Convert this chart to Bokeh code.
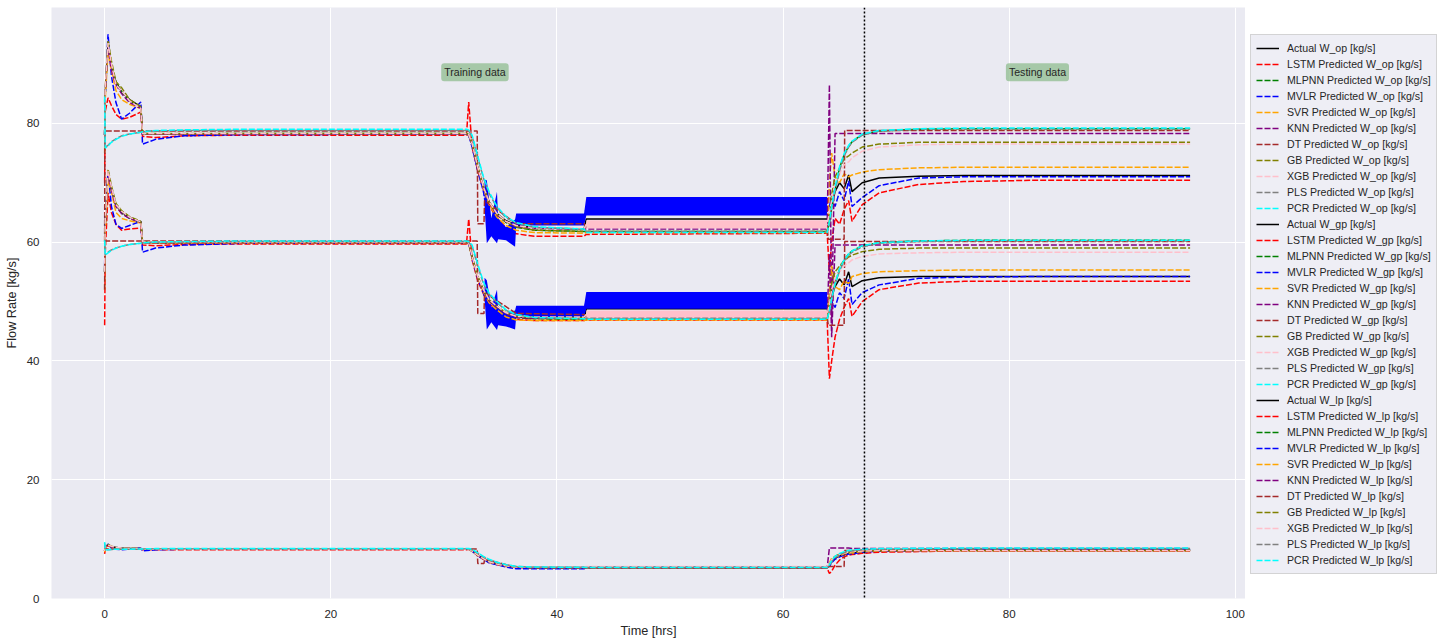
from bokeh.plotting import figure
from bokeh.layouts import row
from bokeh.models import Legend, LegendItem, Span, Label, FixedTicker
from bokeh.embed import file_html
from bokeh.resources import INLINE

# ---------------- data ----------------
x_ticks = [0, 20, 40, 60, 80, 100]
y_ticks = [0, 20, 40, 60, 80]

t = [0, 0.05, 0.3, 0.6, 1.0, 1.5, 2.2, 3.2, 3.35, 4.5, 7, 12,
     32, 32.2, 32.5, 33, 33.5, 34, 34.7, 35.5, 36.4, 38, 42.4, 42.6,
     63.9, 64.1, 64.3, 64.6, 65.0, 65.4, 65.8, 66.1, 67.0, 68.5, 72, 76, 82, 96]
t_dt = [0, 0.02, 32.95, 33.0, 33.55, 33.6, 36.4, 42.4, 42.6, 63.9, 64.0, 65.4, 65.45, 96]

# ---- W_op ----
act_op = [78.0, 85.0, 93.5, 89.5, 87.0, 85.3, 84.0, 82.8, 78.3, 78.2, 78.2, 78.2,
          78.2, 78.0, 76.5, 72.5, 69.3, 66.8, 64.8, 63.6, 62.9, 62.4, 62.2, 63.9,
          63.9, 64.8, 66.5, 68.5, 70.0, 69.0, 71.3, 68.5, 70.0, 70.8, 71.1, 71.2, 71.2, 71.2]
lstm_op = [70.0, 82.0, 84.3, 83.0, 81.5, 80.7, 81.0, 81.9, 77.8, 77.6, 77.9, 78.0,
           78.0, 83.6, 76.0, 72.0, 68.8, 66.2, 64.0, 62.4, 61.4, 61.0, 61.0, 61.3,
           61.5, 55.0, 60.0, 64.0, 63.0, 65.5, 67.0, 63.5, 66.3, 68.3, 69.7, 70.2, 70.4, 70.4]
mlpnn_op = [78.0, 85.0, 93.0, 89.5, 86.8, 85.3, 83.8, 82.6, 78.2, 78.2, 78.2, 78.3,
            78.3, 78.1, 76.5, 72.5, 69.2, 66.7, 64.6, 63.3, 62.5, 62.0, 61.8, 61.8,
            61.8, 63.2, 65.8, 69.0, 72.5, 74.7, 76.1, 76.9, 78.1, 78.7, 79.0, 79.1, 79.1, 79.1]
mvlr_op = [78.0, 85.0, 95.0, 88.0, 83.5, 80.7, 81.7, 83.6, 76.5, 77.3, 77.9, 78.1,
           78.2, 78.0, 76.0, 72.0, 68.5, 62.5, 64.0, 61.5, 63.8, 63.8, 63.8, 66.0,
           66.0, 66.0, 67.5, 66.0, 68.5, 67.0, 70.3, 66.0, 67.5, 69.5, 70.8, 71.0, 71.0, 71.0]
svr_op = [75.0, 84.0, 92.0, 89.0, 85.5, 84.0, 83.2, 82.5, 78.2, 78.2, 78.2, 78.2,
          78.2, 78.0, 76.5, 72.5, 69.0, 66.3, 64.2, 62.8, 62.0, 61.6, 61.5, 61.6,
          61.6, 70.0, 75.0, 71.0, 70.0, 71.5, 71.0, 71.3, 71.8, 72.2, 72.5, 72.6, 72.6, 72.6]
knn_op = [78.0, 85.0, 93.0, 89.0, 86.5, 85.0, 83.5, 82.5, 78.2, 78.2, 78.2, 78.2,
          78.2, 78.0, 76.5, 72.5, 69.2, 66.7, 64.6, 63.4, 62.6, 62.3, 62.2, 62.2,
          62.2, 86.5, 47.0, 78.3, 78.3, 78.3, 78.3, 78.3, 78.3, 78.3, 78.3, 78.3, 78.3, 78.3]
dt_op = [60.0, 78.7, 78.7, 63.1, 63.1, 67.0, 63.1, 63.1, 62.5, 62.5, 60.5, 60.5, 78.8, 78.8]
gb_op = [78.0, 86.0, 94.0, 90.5, 87.0, 86.0, 84.0, 82.8, 78.3, 78.3, 78.3, 78.3,
         78.3, 78.1, 76.6, 72.7, 69.4, 66.8, 64.7, 63.4, 62.6, 62.0, 61.8, 61.8,
         61.8, 64.0, 68.0, 71.0, 72.5, 74.0, 74.5, 75.0, 76.0, 76.5, 76.8, 76.8, 76.8, 76.8]
xgb_op = [78.0, 86.0, 93.5, 90.0, 86.5, 85.5, 83.8, 82.5, 78.3, 78.3, 78.3, 78.3,
          78.3, 78.1, 76.6, 72.6, 69.3, 66.8, 64.8, 63.5, 62.8, 62.4, 62.3, 63.0,
          63.0, 65.0, 67.0, 70.0, 71.5, 73.0, 73.5, 74.2, 75.3, 76.0, 76.4, 76.5, 76.5, 76.5]
pls_op = [84.0, 76.0, 76.3, 76.9, 77.4, 77.9, 78.2, 78.5, 78.6, 78.7, 78.8, 78.8,
          78.8, 78.7, 77.8, 74.2, 70.8, 68.2, 65.8, 64.1, 63.2, 62.5, 62.1, 61.8,
          61.8, 63.0, 65.5, 68.5, 72.0, 74.5, 76.0, 76.8, 78.0, 78.7, 79.0, 79.1, 79.1, 79.1]
pcr_op = [84.5, 75.8, 76.2, 76.8, 77.3, 77.8, 78.2, 78.5, 78.6, 78.8, 78.9, 79.0,
          79.0, 78.9, 78.0, 74.5, 71.0, 68.5, 66.0, 64.3, 63.3, 62.6, 62.2, 61.6,
          61.6, 63.5, 66.0, 69.3, 72.7, 74.9, 76.3, 77.0, 78.2, 78.8, 79.1, 79.2, 79.2, 79.2]

# ---- W_gp ----
act_gp = [55.0, 63.0, 72.0, 69.0, 66.3, 65.0, 64.2, 63.4, 60.0, 59.9, 59.9, 59.9,
          59.9, 59.8, 57.5, 54.1, 51.9, 50.2, 49.1, 48.0, 47.4, 47.2, 47.1, 48.8,
          48.8, 49.5, 51.0, 52.5, 53.8, 52.8, 55.0, 52.5, 53.5, 54.0, 54.2, 54.2, 54.2, 54.2]
lstm_gp = [46.0, 58.0, 68.3, 65.0, 63.0, 62.0, 62.2, 62.4, 59.5, 59.4, 59.6, 59.7,
           59.7, 63.9, 57.0, 53.5, 51.3, 49.7, 48.5, 47.5, 47.0, 46.8, 46.8, 46.9,
           46.9, 37.0, 40.0, 44.0, 47.0, 49.0, 50.5, 47.5, 50.0, 52.0, 53.1, 53.4, 53.4, 53.4]
mlpnn_gp = [55.0, 62.5, 71.5, 68.8, 66.2, 64.9, 64.0, 63.3, 59.9, 59.9, 59.9, 59.9,
            59.9, 59.8, 57.5, 54.1, 51.8, 50.1, 49.0, 47.9, 47.3, 47.1, 47.0, 47.0,
            47.0, 48.5, 50.5, 53.0, 55.5, 57.0, 58.0, 58.5, 59.4, 59.9, 60.2, 60.3, 60.3, 60.3]
mvlr_gp = [56.0, 63.0, 72.0, 66.0, 63.0, 62.3, 62.8, 63.5, 58.3, 59.0, 59.5, 59.8,
           59.9, 59.8, 57.3, 53.8, 51.5, 47.5, 48.5, 47.0, 48.3, 48.3, 48.3, 50.2,
           50.2, 49.0, 50.0, 49.0, 51.5, 50.5, 53.8, 49.5, 51.5, 52.8, 53.9, 54.1, 54.2, 54.2]
svr_gp = [52.0, 62.0, 70.5, 68.5, 65.0, 64.0, 63.6, 63.2, 59.9, 59.8, 59.8, 59.8,
          59.8, 59.7, 57.3, 53.9, 51.6, 49.8, 48.6, 47.4, 46.9, 46.8, 46.8, 46.9,
          46.9, 52.0, 56.0, 52.5, 52.0, 53.5, 53.0, 54.2, 54.7, 55.0, 55.2, 55.3, 55.3, 55.3]
knn_gp = [55.0, 63.0, 71.5, 68.8, 66.0, 64.8, 64.0, 63.3, 59.9, 59.9, 59.9, 59.9,
          59.9, 59.8, 57.5, 54.1, 51.8, 50.1, 49.0, 47.9, 47.3, 47.2, 47.2, 47.3,
          47.3, 58.0, 44.0, 59.5, 59.5, 59.5, 59.5, 59.5, 59.5, 59.5, 59.5, 59.5, 59.5, 59.5]
dt_gp = [52.0, 60.2, 60.2, 48.0, 48.0, 51.5, 48.0, 47.8, 47.5, 47.5, 46.0, 46.0, 60.1, 60.1]
gb_gp = [55.0, 63.5, 72.3, 69.5, 66.5, 65.3, 64.3, 63.5, 60.0, 60.0, 60.0, 60.0,
         60.0, 59.9, 57.6, 54.2, 52.0, 50.3, 49.2, 48.1, 47.5, 47.3, 47.3, 47.3,
         47.3, 50.0, 53.0, 55.0, 56.0, 56.8, 57.5, 57.8, 58.4, 58.8, 59.0, 59.0, 59.0, 59.0]
xgb_gp = [55.0, 63.5, 72.0, 69.3, 66.3, 65.2, 64.2, 63.4, 60.0, 60.0, 60.0, 60.0,
          60.0, 59.9, 57.6, 54.2, 52.0, 50.3, 49.2, 48.1, 47.5, 47.4, 47.4, 47.8,
          47.8, 49.5, 52.0, 54.0, 55.0, 56.0, 56.5, 57.0, 57.6, 58.0, 58.2, 58.3, 58.3, 58.3]
pls_gp = [60.0, 57.9, 58.3, 58.7, 59.0, 59.3, 59.6, 59.8, 59.9, 60.0, 60.0, 60.1,
          60.1, 60.0, 59.3, 56.0, 53.0, 51.2, 49.8, 48.5, 47.8, 47.3, 47.1, 47.2,
          47.2, 48.3, 50.2, 52.8, 55.2, 56.8, 57.8, 58.3, 59.2, 59.8, 60.1, 60.2, 60.2, 60.2]
pcr_gp = [60.3, 57.8, 58.2, 58.6, 59.0, 59.3, 59.6, 59.8, 59.9, 60.0, 60.1, 60.2,
          60.2, 60.1, 59.5, 56.3, 53.3, 51.4, 50.0, 48.6, 47.8, 47.3, 47.1, 47.0,
          47.0, 48.5, 50.5, 53.0, 55.5, 57.0, 58.0, 58.5, 59.4, 59.9, 60.2, 60.3, 60.3, 60.3]

# ---- W_lp ----
act_lp = [8.0, 8.8, 9.0, 8.7, 8.6, 8.5, 8.4, 8.4, 8.3, 8.3, 8.3, 8.3,
          8.3, 8.3, 8.0, 7.3, 6.7, 6.2, 5.8, 5.5, 5.3, 5.2, 5.2, 5.2,
          5.2, 5.6, 6.2, 6.8, 7.2, 7.4, 7.6, 7.7, 7.9, 8.0, 8.1, 8.2, 8.2, 8.2]
lstm_lp = [7.5, 8.2, 8.9, 8.6, 8.4, 8.3, 8.3, 8.4, 8.2, 8.2, 8.2, 8.2,
           8.2, 8.3, 8.0, 7.2, 6.6, 6.1, 5.7, 5.4, 5.2, 5.1, 5.1, 5.1,
           5.1, 4.2, 4.6, 5.6, 6.5, 7.0, 7.3, 7.4, 7.6, 7.8, 7.9, 8.0, 8.0, 8.0]
mlpnn_lp = [8.0, 8.7, 9.0, 8.7, 8.6, 8.5, 8.4, 8.4, 8.3, 8.3, 8.3, 8.3,
            8.3, 8.3, 8.0, 7.3, 6.7, 6.2, 5.8, 5.5, 5.3, 5.2, 5.2, 5.2,
            5.2, 5.7, 6.4, 7.0, 7.4, 7.7, 7.9, 8.0, 8.1, 8.2, 8.2, 8.2, 8.2, 8.2]
mvlr_lp = [8.0, 8.6, 9.2, 8.5, 8.3, 8.2, 8.3, 8.5, 8.0, 8.2, 8.3, 8.3,
           8.3, 8.3, 8.0, 7.2, 6.6, 6.0, 5.7, 5.3, 5.0, 5.0, 5.0, 5.2,
           5.2, 5.4, 6.0, 6.6, 7.0, 7.3, 7.5, 7.5, 7.8, 8.0, 8.1, 8.2, 8.2, 8.2]
svr_lp = [7.8, 8.5, 8.9, 8.7, 8.5, 8.4, 8.4, 8.4, 8.3, 8.3, 8.3, 8.3,
          8.3, 8.3, 8.0, 7.3, 6.7, 6.2, 5.8, 5.5, 5.3, 5.2, 5.2, 5.2,
          5.2, 6.0, 6.8, 7.0, 7.2, 7.5, 7.6, 7.7, 7.9, 8.0, 8.1, 8.1, 8.1, 8.1]
knn_lp = [8.0, 8.7, 9.0, 8.7, 8.6, 8.5, 8.4, 8.4, 8.3, 8.3, 8.3, 8.3,
          8.3, 8.3, 8.0, 7.3, 6.7, 6.2, 5.8, 5.5, 5.3, 5.2, 5.2, 5.2,
          5.2, 8.5, 8.5, 8.5, 8.5, 8.5, 8.5, 8.4, 8.4, 8.4, 8.4, 8.4, 8.4, 8.4]
dt_lp = [8.0, 8.35, 8.35, 5.9, 5.9, 6.6, 5.3, 5.2, 5.2, 5.2, 5.4, 5.4, 8.1, 8.1]
gb_lp = [8.0, 8.8, 9.1, 8.8, 8.6, 8.5, 8.4, 8.4, 8.3, 8.3, 8.3, 8.3,
         8.3, 8.3, 8.0, 7.3, 6.7, 6.2, 5.8, 5.5, 5.3, 5.2, 5.2, 5.2,
         5.2, 5.8, 6.5, 7.1, 7.5, 7.7, 7.8, 7.9, 8.0, 8.1, 8.1, 8.1, 8.1, 8.1]
xgb_lp = [8.0, 8.8, 9.0, 8.8, 8.6, 8.5, 8.4, 8.4, 8.3, 8.3, 8.3, 8.3,
          8.3, 8.3, 8.0, 7.3, 6.7, 6.2, 5.8, 5.5, 5.3, 5.3, 5.3, 5.4,
          5.4, 5.9, 6.5, 7.0, 7.4, 7.6, 7.8, 7.9, 8.0, 8.1, 8.1, 8.1, 8.1, 8.1]
pls_lp = [9.3, 8.2, 8.2, 8.25, 8.3, 8.3, 8.3, 8.3, 8.3, 8.35, 8.35, 8.35,
          8.35, 8.35, 8.2, 7.6, 7.0, 6.5, 6.0, 5.7, 5.4, 5.25, 5.2, 5.2,
          5.2, 5.6, 6.2, 6.9, 7.4, 7.7, 7.9, 8.0, 8.2, 8.3, 8.35, 8.4, 8.4, 8.4]
pcr_lp = [9.5, 8.2, 8.2, 8.25, 8.3, 8.3, 8.3, 8.35, 8.35, 8.4, 8.4, 8.4,
          8.4, 8.4, 8.3, 7.7, 7.1, 6.6, 6.1, 5.7, 5.4, 5.3, 5.25, 5.2,
          5.2, 5.7, 6.4, 7.1, 7.6, 7.9, 8.1, 8.2, 8.3, 8.4, 8.45, 8.5, 8.5, 8.5]

# oscillation envelopes (dense oscillating traces)
mvlr_band_t = [33.6, 33.8, 34.2, 34.7, 34.8, 35.5, 36.3, 36.4, 42.4, 42.6, 63.9]
mvlr_op_lo = [66.0, 59.8, 61.0, 59.8, 60.5, 60.3, 59.2, 62.8, 62.8, 64.5, 64.5]
mvlr_op_hi = [70.5, 70.4, 64.0, 68.5, 64.0, 62.5, 63.8, 64.8, 64.8, 67.6, 67.6]
mvlr_gp_lo = [50.5, 45.3, 46.5, 45.2, 46.0, 45.8, 45.3, 47.4, 47.4, 48.8, 48.8]
mvlr_gp_hi = [54.0, 53.6, 49.0, 52.0, 48.8, 48.0, 48.5, 49.3, 49.3, 51.6, 51.6]
xgb_band_t = [42.6, 63.9]
xgb_op_lo = [62.3, 62.3]
xgb_op_hi = [63.7, 63.7]
xgb_gp_lo = [47.2, 47.2]
xgb_gp_hi = [48.5, 48.5]

models = ["Actual", "LSTM", "MLPNN", "MVLR", "SVR", "KNN", "DT", "GB", "XGB", "PLS", "PCR"]
colors = ["black", "red", "green", "blue", "orange", "purple", "brown", "olive", "pink", "gray", "cyan"]
outputs = [
    ("op", [act_op, lstm_op, mlpnn_op, mvlr_op, svr_op, knn_op, dt_op, gb_op, xgb_op, pls_op, pcr_op],
     (mvlr_op_lo, mvlr_op_hi), (xgb_op_lo, xgb_op_hi)),
    ("gp", [act_gp, lstm_gp, mlpnn_gp, mvlr_gp, svr_gp, knn_gp, dt_gp, gb_gp, xgb_gp, pls_gp, pcr_gp],
     (mvlr_gp_lo, mvlr_gp_hi), (xgb_gp_lo, xgb_gp_hi)),
    ("lp", [act_lp, lstm_lp, mlpnn_lp, mvlr_lp, svr_lp, knn_lp, dt_lp, gb_lp, xgb_lp, pls_lp, pcr_lp],
     None, None),
]

FONT = "Liberation Sans"
TXT = "#262626"
DASH = "6 2"

p = figure(frame_width=1194, frame_height=591, x_range=(-4.7, 100.9), y_range=(0, 99.5),
           output_backend="svg", toolbar_location=None,
           min_border_top=7, min_border_bottom=44, min_border_left=51, min_border_right=0,
           background_fill_color="#EAEAF2", border_fill_color="white", outline_line_color=None)

p.xaxis.ticker = FixedTicker(ticks=x_ticks)
p.yaxis.ticker = FixedTicker(ticks=y_ticks)
p.xaxis.axis_label = "Time [hrs]"
p.yaxis.axis_label = "Flow Rate [kg/s]"
for ax in (p.xaxis[0], p.yaxis[0]):
    ax.axis_line_color = None
    ax.major_tick_line_color = None
    ax.minor_tick_line_color = None
    ax.major_tick_out = 0
    ax.major_tick_in = 0
    ax.major_label_text_font = FONT
    ax.major_label_text_font_size = "11.5px"
    ax.major_label_text_color = TXT
    ax.axis_label_text_font = FONT
    ax.axis_label_text_font_size = "12.7px"
    ax.axis_label_text_font_style = "normal"
    ax.axis_label_text_color = TXT
p.xaxis.major_label_standoff = 11
p.xaxis.axis_label_standoff = 3
p.yaxis.major_label_standoff = 12
p.yaxis.axis_label_standoff = 5
p.xgrid.grid_line_color = "white"
p.ygrid.grid_line_color = "white"
p.xgrid.grid_line_width = 1
p.ygrid.grid_line_width = 1

# legend lives in a narrow companion figure to the right of the plot
lg = figure(width=195, height=642, x_range=(0, 1), y_range=(0, 1),
            output_backend="svg", toolbar_location=None,
            x_axis_type=None, y_axis_type=None,
            min_border_top=0, min_border_bottom=0, min_border_left=0, min_border_right=0,
            background_fill_color="white", border_fill_color="white", outline_line_color=None)
lg.grid.visible = False
proxy_x = [5, 6]   # outside the companion's ranges: proxies only feed the legend
proxy_y = [5, 6]

items = []
for key, series, mvlr_band, xgb_band in outputs:
    for m, c, y in zip(models, colors, series):
        x = t_dt if m == "DT" else t
        if m == "MVLR" and mvlr_band is not None:
            p.varea(x=mvlr_band_t, y1=mvlr_band[0], y2=mvlr_band[1], fill_color=c, fill_alpha=1.0)
        if m == "XGB" and xgb_band is not None:
            p.varea(x=xgb_band_t, y1=xgb_band[0], y2=xgb_band[1], fill_color=c, fill_alpha=1.0)
        if m == "Actual":
            p.line(x, y, line_color=c, line_width=1.5)
            r = lg.line(proxy_x, proxy_y, line_color=c, line_width=1.5)
            lab = f"Actual W_{key} [kg/s]"
        else:
            p.line(x, y, line_color=c, line_width=1.5, line_dash=DASH)
            r = lg.line(proxy_x, proxy_y, line_color=c, line_width=1.5, line_dash=DASH)
            lab = f"{m} Predicted W_{key} [kg/s]"
        items.append(LegendItem(label=lab, renderers=[r]))

p.add_layout(Span(location=67.2, dimension="height", line_color="black",
                  line_width=1.5, line_dash="2 2"))

for tx, xx in (("Training data", 32.75), ("Testing data", 82.5)):
    p.add_layout(Label(x=xx, y=88.6, text=tx, text_align="center", text_baseline="middle",
                       text_font=FONT, text_font_size="10.6px", text_color=TXT,
                       background_fill_color="#8FBC8F", background_fill_alpha=0.75,
                       padding=3, border_radius=3))

legend = Legend(items=items, location=(5, 24), orientation="vertical",
                label_text_font=FONT, label_text_font_size="10.6px", label_text_color=TXT,
                glyph_width=23, glyph_height=16, label_height=16, spacing=0,
                padding=5, margin=0, label_standoff=8,
                background_fill_color="#EAEAF2", background_fill_alpha=0.8,
                border_line_color="#CCCCCC", border_line_alpha=0.8)
lg.add_layout(legend, "center")

layout = row(p, lg, spacing=0)
open("out.html", "w").write(file_html(layout, INLINE))
